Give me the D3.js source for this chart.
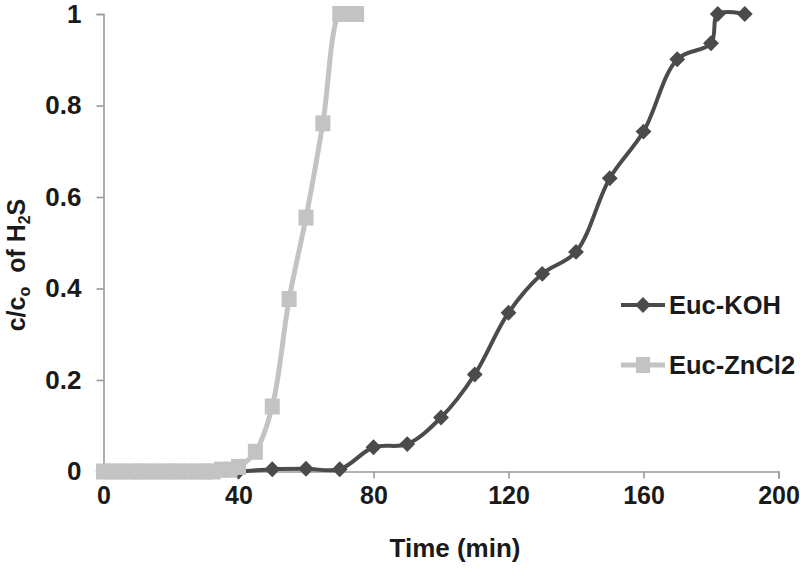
<!DOCTYPE html>
<html>
<head>
<meta charset="utf-8">
<script src="https://cdn.jsdelivr.net/npm/d3@7"></script>
<style>
  body { margin: 0; background: #fff; }
  text { font-family: "Liberation Sans", Arial, sans-serif; font-weight: bold; fill: #1a1a1a; }
</style>
</head>
<body>
<script>
// data
var kohTime = [0, 10, 20, 30, 40, 50, 60, 70, 80, 90, 100, 110, 120, 130, 140, 150, 160, 170, 180, 182, 190];
var kohVal  = [0, 0, 0, 0, 0, 0.005, 0.006, 0.005, 0.053, 0.06, 0.118, 0.212, 0.347, 0.432, 0.48, 0.641, 0.743, 0.901, 0.936, 1.0, 1.0];

var znTime = [0, 2.5, 5, 7.5, 10, 12.5, 15, 17.5, 20, 22.5, 25, 27.5, 30, 32.5, 35, 37.5, 40, 45, 50, 55, 60, 65, 70, 72.5, 75];
var znVal  = [0, 0, 0, 0, 0, 0, 0, 0, 0, 0, 0, 0, 0, 0, 0.004, 0.004, 0.01, 0.043, 0.142, 0.377, 0.555, 0.761, 1, 1, 1];

var xTicks = [0, 40, 80, 120, 160, 200];
var yTicks = [0, 0.2, 0.4, 0.6, 0.8, 1];

var seriesNames = ["Euc-KOH", "Euc-ZnCl2"];
var kohColor = "#4b4b4b";
var znColor = "#c3c3c3";

var svg = d3.select("body")
  .append("svg")
  .attr("width", 800)
  .attr("height", 569);

var x = d3.scaleLinear().domain([0, 200]).range([103.5, 778.5]);
var y = d3.scaleLinear().domain([0, 1]).range([471.5, 14]);

// axes
var xAxis = svg.append("g")
  .attr("transform", "translate(0," + y(0) + ")")
  .call(d3.axisBottom(x).tickValues(xTicks).tickSize(7).tickPadding(8).tickFormat(d3.format("d")));
var yAxis = svg.append("g")
  .attr("transform", "translate(" + x(0) + ",0)")
  .call(d3.axisLeft(y).tickValues(yTicks).tickSize(7).tickPadding(15).tickFormat(function(d){ return d === 0 || d === 1 ? d : d.toFixed(1); }));

[xAxis, yAxis].forEach(function(a){
  a.select(".domain").attr("stroke", "#9a9a9a").attr("stroke-width", 1.6);
  a.selectAll(".tick line").attr("stroke", "#9a9a9a").attr("stroke-width", 1.6);
  a.selectAll(".tick text").attr("fill", "#1a1a1a").style("font-weight", "bold")
    .style("font-family", "'Liberation Sans', Arial, sans-serif");
});
xAxis.selectAll(".tick text").style("font-size", "25px").attr("dy", "0.71em");
yAxis.selectAll(".tick text").style("font-size", "26px");

// axis titles
svg.append("text")
  .attr("x", 455)
  .attr("y", 557)
  .attr("text-anchor", "middle")
  .style("font-size", "26px")
  .text("Time (min)");

var yTitle = svg.append("text")
  .attr("transform", "translate(25,265) rotate(-90)")
  .attr("text-anchor", "middle")
  .style("font-size", "25px");
yTitle.append("tspan").text("c/c");
yTitle.append("tspan").attr("dy", 5).style("font-size", "16px").text("o");
yTitle.append("tspan").attr("dy", -5).text("\u00a0\u00a0of H");
yTitle.append("tspan").attr("dy", 5).style("font-size", "16px").text("2");
yTitle.append("tspan").attr("dy", -5).text("S");

// lines
var line = d3.line()
  .x(function(d){ return x(d[0]); })
  .y(function(d){ return y(d[1]); })
  .curve(d3.curveCatmullRom.alpha(0.5));

var kohData = d3.zip(kohTime, kohVal);
var znData = d3.zip(znTime, znVal);

var diamond = d3.symbol().type(d3.symbolDiamond2).size(160);

svg.append("path")
  .datum(kohData)
  .attr("d", line)
  .attr("fill", "none")
  .attr("stroke", kohColor)
  .attr("stroke-width", 4);

svg.selectAll(".koh")
  .data(kohData)
  .enter().append("path")
  .attr("class", "koh")
  .attr("d", diamond)
  .attr("transform", function(d){ return "translate(" + x(d[0]) + "," + y(d[1]) + ")"; })
  .attr("fill", kohColor);

svg.append("path")
  .datum(znData)
  .attr("d", line)
  .attr("fill", "none")
  .attr("stroke", znColor)
  .attr("stroke-width", 5);

svg.selectAll(".zn")
  .data(znData)
  .enter().append("rect")
  .attr("class", "zn")
  .attr("x", function(d){ return x(d[0]) - 7.5; })
  .attr("y", function(d){ return y(d[1]) - 8; })
  .attr("width", 15)
  .attr("height", 16)
  .attr("fill", znColor);

// legend
var legend = svg.append("g");
var legY = [305, 365];
var legColors = [kohColor, znColor];

seriesNames.forEach(function(name, i){
  legend.append("line")
    .attr("x1", 621).attr("x2", 665)
    .attr("y1", legY[i]).attr("y2", legY[i])
    .attr("stroke", legColors[i])
    .attr("stroke-width", i === 0 ? 4 : 5);
  if (i === 0) {
    legend.append("path")
      .attr("d", diamond)
      .attr("transform", "translate(643," + legY[i] + ")")
      .attr("fill", kohColor);
  } else {
    legend.append("rect")
      .attr("x", 636).attr("y", legY[i] - 8)
      .attr("width", 14).attr("height", 16)
      .attr("fill", znColor);
  }
  legend.append("text")
    .attr("x", 669)
    .attr("y", legY[i] + 9)
    .style("font-size", "25.5px")
    .text(name);
});
</script>
</body>
</html>
